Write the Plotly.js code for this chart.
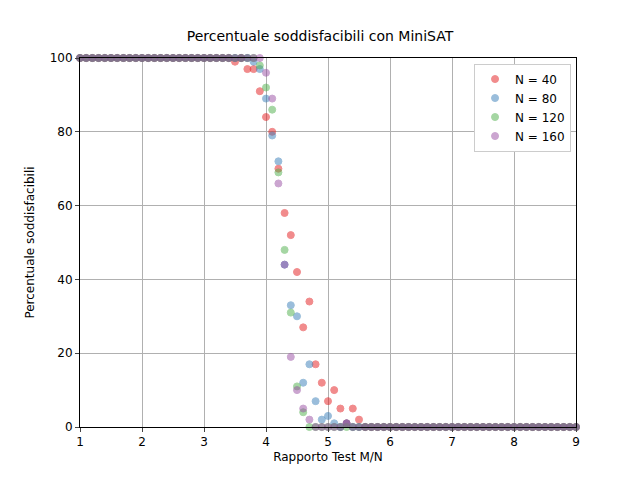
<!DOCTYPE html>
<html><head><script src="https://cdn.plot.ly/plotly-3.0.1.min.js"></script></head>
<body style="margin:0"><div id="c" style="width:640px;height:480px"></div>
<script>
const xVals = [1.0,1.1,1.2,1.3,1.4,1.5,1.6,1.7,1.8,1.9,2.0,2.1,2.2,2.3,2.4,2.5,2.6,2.7,2.8,2.9,3.0,3.1,3.2,3.3,3.4,3.5,3.6,3.7,3.8,3.9,4.0,4.1,4.2,4.3,4.4,4.5,4.6,4.7,4.8,4.9,5.0,5.1,5.2,5.3,5.4,5.5,5.6,5.7,5.8,5.9,6.0,6.1,6.2,6.3,6.4,6.5,6.6,6.7,6.8,6.9,7.0,7.1,7.2,7.3,7.4,7.5,7.6,7.7,7.8,7.9,8.0,8.1,8.2,8.3,8.4,8.5,8.6,8.7,8.8,8.9,9.0];
const n40 = [100,100,100,100,100,100,100,100,100,100,
100,100,100,100,100,100,100,100,100,100,
100,100,100,100,100,99,100,97,97,91,
84,80,70,58,52,42,27,34,17,12,
7,10,5,1,5,2,0,0,0,0,
0,0,0,0,0,0,0,0,0,0,
0,0,0,0,0,0,0,0,0,0,
0,0,0,0,0,0,0,0,0,0,0];
const n80 = [100,100,100,100,100,100,100,100,100,100,
100,100,100,100,100,100,100,100,100,100,
100,100,100,100,100,100,100,100,99,97,
89,79,72,44,33,30,12,17,7,2,
3,1,0,1,0,0,0,0,0,0,
0,0,0,0,0,0,0,0,0,0,
0,0,0,0,0,0,0,0,0,0,
0,0,0,0,0,0,0,0,0,0,0];
const n120 = [100,100,100,100,100,100,100,100,100,100,
100,100,100,100,100,100,100,100,100,100,
100,100,100,100,100,100,100,100,100,98,
92,86,69,48,31,11,4,0,0,0,
0,0,0,0,0,0,0,0,0,0,
0,0,0,0,0,0,0,0,0,0,
0,0,0,0,0,0,0,0,0,0,
0,0,0,0,0,0,0,0,0,0,0];
const n160 = [100,100,100,100,100,100,100,100,100,100,
100,100,100,100,100,100,100,100,100,100,
100,100,100,100,100,100,100,100,100,100,
96,89,66,44,19,10,5,2,0,0,
0,0,0,1,0,0,0,0,0,0,
0,0,0,0,0,0,0,0,0,0,
0,0,0,0,0,0,0,0,0,0,
0,0,0,0,0,0,0,0,0,0,0];
const names = ['N = 40','N = 80','N = 120','N = 160'];
const colors = ['#e41a1c','#377eb8','#4daf4a','#984ea3'];
const series = [n40,n80,n120,n160];
const traces = series.map((y,i)=>({x:xVals,y:y,type:'scatter',mode:'markers',name:names[i],
  marker:{color:colors[i],opacity:0.5,size:7,line:{width:1,color:colors[i]}},cliponaxis:false}));
const ax = {showline:true,mirror:true,linecolor:'black',linewidth:1,ticks:'outside',ticklen:4,
  gridcolor:'#b0b0b0',gridwidth:1,zeroline:false,tickfont:{size:12,color:'black'}};
Plotly.newPlot('c',traces,{
  width:640,height:480,margin:{l:80,r:64,t:58,b:53},
  paper_bgcolor:'white',plot_bgcolor:'white',
  font:{family:'DejaVu Sans',color:'black'},
  title:{text:'Percentuale soddisfacibili con MiniSAT',font:{size:14},x:0.5,xanchor:'center',y:0.935},
  xaxis:Object.assign({},ax,{range:[1,9],dtick:1,title:{text:'Rapporto Test M/N',font:{size:12},standoff:4}}),
  yaxis:Object.assign({},ax,{range:[0,100],dtick:20,title:{text:'Percentuale soddisfacibili',font:{size:12},standoff:12}}),
  legend:{x:0.99,y:0.985,xanchor:'right',yanchor:'top',bordercolor:'#cccccc',borderwidth:1,font:{size:12},itemwidth:30},
  showlegend:true
},{staticPlot:true});
</script></body></html>
